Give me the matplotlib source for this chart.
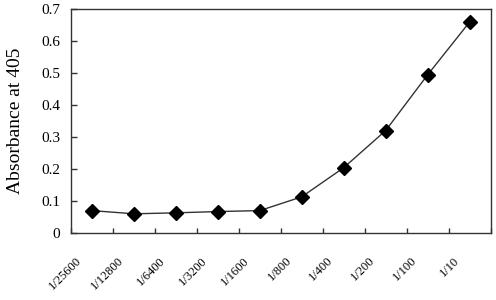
import matplotlib
matplotlib.use("Agg")
import matplotlib.pyplot as plt
import matplotlib.transforms as mtransforms
import numpy as np

categories = ["1/25600", "1/12800", "1/6400", "1/3200", "1/1600",
              "1/800", "1/400", "1/200", "1/100", "1/10"]
absorbance = [0.070, 0.060, 0.063, 0.067, 0.070, 0.113, 0.204, 0.320, 0.494, 0.659]
y_ticks = [0, 0.1, 0.2, 0.3, 0.4, 0.5, 0.6, 0.7]
y_tick_labels = ["0", "0.1", "0.2", "0.3", "0.4", "0.5", "0.6", "0.7"]

plt.rcParams['font.family'] = ['Liberation Serif', 'DejaVu Serif']

fig = plt.figure(figsize=(4.96, 3.0), dpi=100)
ax = fig.add_axes([71/496, 1-233/300, (490.5-71)/496, (233-9)/300])

x = np.arange(len(categories))
ax.plot(x, absorbance, color='#333333', lw=1.0, marker='D', markersize=7,
        markerfacecolor='black', markeredgecolor='black')

ax.set_xlim(-0.5, len(categories) - 0.5)
ax.set_ylim(0, 0.7)
ax.set_yticks(y_ticks)
ax.set_yticklabels(y_tick_labels, fontsize=11)

ax.set_xticks(x)
ax.set_xticklabels(categories, rotation=45, ha='right', va='top', fontsize=9)
ax.set_xticks(np.arange(-0.5, len(categories)), minor=True)
ax.tick_params(axis='x', which='major', length=0, pad=2)
ax.tick_params(axis='x', which='minor', direction='in', length=3.5, width=1, color='#333333')
ax.tick_params(axis='y', direction='in', length=4.5, width=1, color='#333333', pad=8)

offset = mtransforms.ScaledTranslation(-8/100, -19/100, fig.dpi_scale_trans)
for lab in ax.get_xticklabels():
    lab.set_transform(lab.get_transform() + offset)

for sp in ax.spines.values():
    sp.set_color('#333333')
    sp.set_linewidth(1.0)

ax.set_ylabel("Absorbance at 405", fontsize=14, labelpad=12)

fig.savefig("out.png", dpi=100)
